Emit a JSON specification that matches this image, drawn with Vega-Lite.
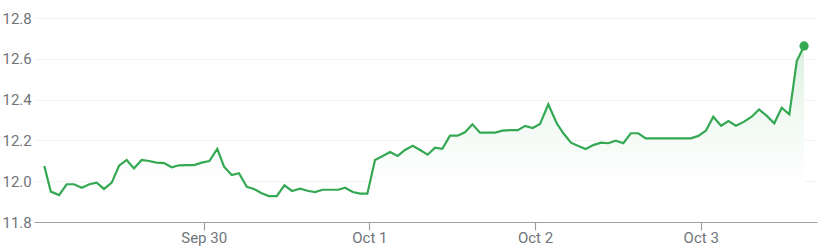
{
  "$schema": "https://vega.github.io/schema/vega-lite/v6.json",
  "autosize": "none",
  "width": 783,
  "height": 204,
  "padding": {"left": 34, "top": 18, "right": 8, "bottom": 28},
  "background": "white",
  "config": {
    "view": {"stroke": null},
    "font": "Roboto",
    "axis": {"labelFont": "Roboto", "labelColor": "#70757a", "labelFontSize": 15, "title": null}
  },
  "data": {
    "values": [
      {"t": 0.038, "price": 12.075}, {"t": 0.077, "price": 11.949}, {"t": 0.127, "price": 11.932},
      {"t": 0.173, "price": 11.985}, {"t": 0.217, "price": 11.985}, {"t": 0.264, "price": 11.968},
      {"t": 0.310, "price": 11.985}, {"t": 0.354, "price": 11.993}, {"t": 0.398, "price": 11.962},
      {"t": 0.445, "price": 11.993}, {"t": 0.489, "price": 12.076}, {"t": 0.535, "price": 12.104},
      {"t": 0.579, "price": 12.063}, {"t": 0.626, "price": 12.104}, {"t": 0.670, "price": 12.099},
      {"t": 0.716, "price": 12.091}, {"t": 0.761, "price": 12.089}, {"t": 0.807, "price": 12.068},
      {"t": 0.851, "price": 12.078}, {"t": 0.898, "price": 12.079}, {"t": 0.942, "price": 12.079},
      {"t": 0.988, "price": 12.091}, {"t": 1.034, "price": 12.099}, {"t": 1.082, "price": 12.158},
      {"t": 1.123, "price": 12.071}, {"t": 1.169, "price": 12.030}, {"t": 1.213, "price": 12.039},
      {"t": 1.260, "price": 11.973}, {"t": 1.304, "price": 11.962}, {"t": 1.350, "price": 11.941},
      {"t": 1.394, "price": 11.927}, {"t": 1.441, "price": 11.927}, {"t": 1.487, "price": 11.980},
      {"t": 1.533, "price": 11.952}, {"t": 1.582, "price": 11.963}, {"t": 1.626, "price": 11.953},
      {"t": 1.672, "price": 11.947}, {"t": 1.718, "price": 11.958}, {"t": 1.763, "price": 11.958},
      {"t": 1.813, "price": 11.958}, {"t": 1.853, "price": 11.968}, {"t": 1.900, "price": 11.947},
      {"t": 1.944, "price": 11.939}, {"t": 1.988, "price": 11.939}, {"t": 2.034, "price": 12.104},
      {"t": 2.078, "price": 12.122}, {"t": 2.125, "price": 12.143}, {"t": 2.171, "price": 12.124},
      {"t": 2.215, "price": 12.153}, {"t": 2.262, "price": 12.174}, {"t": 2.306, "price": 12.153},
      {"t": 2.352, "price": 12.130}, {"t": 2.396, "price": 12.164}, {"t": 2.440, "price": 12.159},
      {"t": 2.487, "price": 12.223}, {"t": 2.533, "price": 12.223}, {"t": 2.577, "price": 12.240},
      {"t": 2.622, "price": 12.279}, {"t": 2.668, "price": 12.238}, {"t": 2.712, "price": 12.238},
      {"t": 2.759, "price": 12.238}, {"t": 2.803, "price": 12.248}, {"t": 2.849, "price": 12.250},
      {"t": 2.896, "price": 12.250}, {"t": 2.940, "price": 12.271}, {"t": 2.986, "price": 12.261},
      {"t": 3.030, "price": 12.280}, {"t": 3.080, "price": 12.377}, {"t": 3.131, "price": 12.284},
      {"t": 3.171, "price": 12.235}, {"t": 3.217, "price": 12.189}, {"t": 3.261, "price": 12.173},
      {"t": 3.306, "price": 12.158}, {"t": 3.352, "price": 12.177}, {"t": 3.397, "price": 12.189},
      {"t": 3.442, "price": 12.186}, {"t": 3.487, "price": 12.199}, {"t": 3.533, "price": 12.186},
      {"t": 3.578, "price": 12.235}, {"t": 3.623, "price": 12.235}, {"t": 3.668, "price": 12.210},
      {"t": 3.714, "price": 12.210}, {"t": 3.759, "price": 12.210}, {"t": 3.805, "price": 12.210},
      {"t": 3.850, "price": 12.210}, {"t": 3.895, "price": 12.210}, {"t": 3.940, "price": 12.210},
      {"t": 3.986, "price": 12.222}, {"t": 4.032, "price": 12.248}, {"t": 4.076, "price": 12.316},
      {"t": 4.123, "price": 12.272}, {"t": 4.167, "price": 12.295}, {"t": 4.213, "price": 12.272},
      {"t": 4.262, "price": 12.292}, {"t": 4.308, "price": 12.316}, {"t": 4.352, "price": 12.352},
      {"t": 4.399, "price": 12.320}, {"t": 4.444, "price": 12.284}, {"t": 4.489, "price": 12.360},
      {"t": 4.535, "price": 12.328}, {"t": 4.580, "price": 12.589}, {"t": 4.624, "price": 12.663}
    ]
  },
  "encoding": {
    "x": {
      "field": "t", "type": "quantitative",
      "scale": {"domain": [-0.0243, 4.702], "nice": false, "zero": false},
      "axis": {
        "values": [1, 2, 3, 4],
        "labelExpr": "datum.value == 1 ? 'Sep 30' : datum.value == 2 ? 'Oct 1' : datum.value == 3 ? 'Oct 2' : 'Oct 3'",
        "grid": false,
        "domain": true, "domainColor": "#9e9e9e", "domainWidth": 1.2,
        "ticks": true, "tickColor": "#9e9e9e", "tickSize": 8, "tickWidth": 1.2,
        "labelPadding": 0, "labelFlush": false, "zindex": 1
      }
    },
    "y": {
      "field": "price", "type": "quantitative",
      "scale": {"domain": [11.8, 12.8], "nice": false, "zero": false},
      "axis": {
        "values": [11.8, 12.0, 12.2, 12.4, 12.6, 12.8],
        "format": ".1f",
        "grid": true, "gridColor": "#f3f3f3", "gridWidth": 1,
        "domain": false, "ticks": false, "tickSize": 0,
        "labelAlign": "left", "labelPadding": 32
      }
    }
  },
  "layer": [
    {
      "mark": {
        "type": "area",
        "opacity": 1,
        "color": {
          "gradient": "linear", "x1": 0, "y1": 0, "x2": 0, "y2": 1,
          "stops": [
            {"offset": 0, "color": "#dcf0e1"},
            {"offset": 0.4, "color": "#f1f9f3"},
            {"offset": 0.8, "color": "#ffffff"},
            {"offset": 1, "color": "#ffffff"}
          ]
        }
      },
      "encoding": {"y2": {"datum": 11.8}}
    },
    {"mark": {"type": "line", "color": "#34a853", "strokeWidth": 2.2}},
    {
      "transform": [{"filter": "datum.t >= 4.62"}],
      "mark": {"type": "point", "filled": true, "color": "#34a853", "size": 85, "opacity": 1}
    }
  ]
}
